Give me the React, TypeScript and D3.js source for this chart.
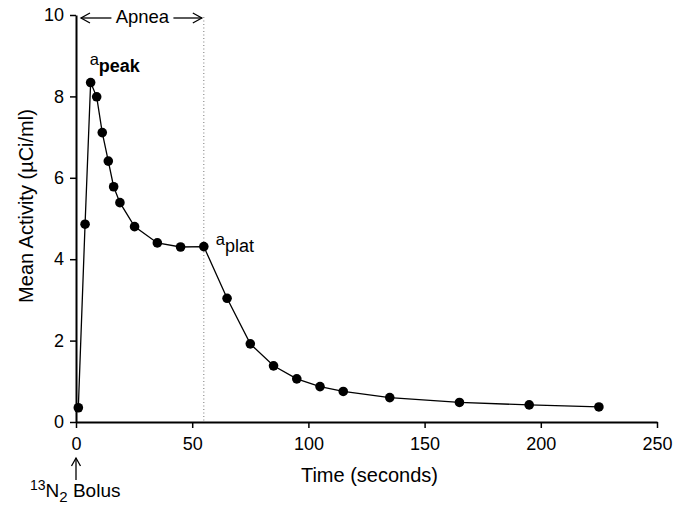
import React, { useEffect, useRef } from 'react';
import * as d3 from 'd3';

// time after bolus (s) and mean activity (uCi/ml)
const times = [1, 3.9, 6.3, 8.9, 11.3, 13.9, 16.2, 18.9, 25.2, 35, 45, 55, 65, 75, 85, 95, 105, 115, 135, 165, 195, 225];
const activity = [0.35, 4.86, 8.34, 7.99, 7.11, 6.41, 5.78, 5.39, 4.8, 4.4, 4.3, 4.31, 3.04, 1.92, 1.38, 1.06, 0.87, 0.75, 0.6, 0.48, 0.42, 0.37];
const xTicks = [0, 50, 100, 150, 200, 250];
const yTicks = [0, 2, 4, 6, 8, 10];
const apneaEnd = 55;
const peakIdx = 2;
const platIdx = 11;

const width = 673, height = 506;
const margin = {top: 15, right: 16, bottom: 84, left: 76};
const font = '"Liberation Sans", Arial, Helvetica, sans-serif';

export default function App() {
  const ref = useRef<SVGSVGElement>(null);

  useEffect(() => {
    const svg = d3.select(ref.current);
    svg.selectAll('*').remove();

    const x = d3.scaleLinear().domain([0, 250]).range([margin.left, width - margin.right]);
    const y = d3.scaleLinear().domain([0, 10]).range([height - margin.bottom, margin.top]);

    // apnea window marker
    svg.append('line')
      .attr('x1', x(apneaEnd)).attr('x2', x(apneaEnd))
      .attr('y1', y(10) + 2).attr('y2', y(0))
      .attr('stroke', '#777').attr('stroke-width', 1)
      .attr('stroke-dasharray', '1,2.5');

    const xAxis = svg.append('g')
      .attr('transform', 'translate(0,' + y(0) + ')')
      .call(d3.axisBottom(x).tickValues(xTicks).tickSize(6).tickSizeOuter(0).tickPadding(9));
    const yAxis = svg.append('g')
      .attr('transform', 'translate(' + x(0) + ',0)')
      .call(d3.axisLeft(y).tickValues(yTicks).tickSize(6).tickSizeOuter(0).tickPadding(6));

    [xAxis, yAxis].forEach(g => {
      g.select('.domain').attr('stroke-width', 2);
      g.selectAll('.tick line').attr('stroke-width', 1.5);
      g.selectAll('.tick text').attr('font-size', 18).attr('font-family', font).attr('fill', '#000');
    });

    const line = d3.line<number>().x((d, i) => x(times[i])).y(d => y(d));
    svg.append('path')
      .datum(activity)
      .attr('d', line)
      .attr('fill', 'none')
      .attr('stroke', '#000')
      .attr('stroke-width', 1.3);

    svg.selectAll('circle.pt')
      .data(activity)
      .enter().append('circle')
      .attr('class', 'pt')
      .attr('cx', (d, i) => x(times[i]))
      .attr('cy', d => y(d))
      .attr('r', 4.8)
      .attr('fill', '#000');

    // Apnea double arrow along the top
    const ay = y(10) + 3;
    const left = x(0) + 5, right = x(apneaEnd) - 2;
    const mid = (left + right) / 2;
    const arr = svg.append('g').attr('stroke', '#000').attr('stroke-width', 1.3).attr('fill', 'none');
    arr.append('line').attr('x1', left).attr('x2', mid - 30).attr('y1', ay).attr('y2', ay);
    arr.append('line').attr('x1', mid + 32).attr('x2', right).attr('y1', ay).attr('y2', ay);
    arr.append('path').attr('d', `M${left + 9},${ay - 5}L${left},${ay}L${left + 9},${ay + 5}`);
    arr.append('path').attr('d', `M${right - 9},${ay - 5}L${right},${ay}L${right - 9},${ay + 5}`);
    svg.append('text')
      .attr('x', mid + 1).attr('y', ay + 5)
      .attr('text-anchor', 'middle')
      .attr('font-family', font).attr('font-size', 18.5)
      .text('Apnea');

    // peak / plateau labels
    const peak = svg.append('text')
      .attr('x', x(times[peakIdx]) - 1).attr('y', y(activity[peakIdx]) - 18)
      .attr('font-family', font);
    peak.append('tspan').attr('font-size', 16.5).text('a');
    peak.append('tspan').attr('font-size', 18).attr('font-weight', 'bold').attr('dy', 7).text('peak');

    const plat = svg.append('text')
      .attr('x', x(times[platIdx]) + 12).attr('y', y(activity[platIdx]) - 2)
      .attr('font-family', font);
    plat.append('tspan').attr('font-size', 16.5).text('a');
    plat.append('tspan').attr('font-size', 18).attr('dy', 7).text('plat');

    // bolus marker
    const bx = x(0);
    const bol = svg.append('g').attr('stroke', '#000').attr('stroke-width', 1.3).attr('fill', 'none');
    bol.append('line').attr('x1', bx).attr('x2', bx).attr('y1', 458).attr('y2', 480);
    bol.append('path').attr('d', `M${bx - 4.5},${466}L${bx},${458}L${bx + 4.5},${466}`);
    const bt = svg.append('text').attr('x', 30).attr('y', 497).attr('font-family', font).attr('font-size', 19);
    bt.append('tspan').attr('font-size', 14).attr('dy', -7).text('13');
    bt.append('tspan').attr('dy', 7).text('N');
    bt.append('tspan').attr('font-size', 15).attr('dy', 5).text('2');
    bt.append('tspan').attr('dy', -5).text(' Bolus');

    // axis titles
    svg.append('text')
      .attr('x', (x(0) + x(250)) / 2 + 3).attr('y', 482)
      .attr('text-anchor', 'middle')
      .attr('font-family', font).attr('font-size', 20)
      .text('Time (seconds)');
    svg.append('text')
      .attr('transform', 'translate(33,206) rotate(-90)')
      .attr('text-anchor', 'middle')
      .attr('font-family', font).attr('font-size', 20)
      .text('Mean Activity (\u00B5Ci/ml)');
  }, []);

  return (
    <svg ref={ref} width={width} height={height}
      style={{position: 'absolute', left: 0, top: 0, background: '#fff'}} />
  );
}
